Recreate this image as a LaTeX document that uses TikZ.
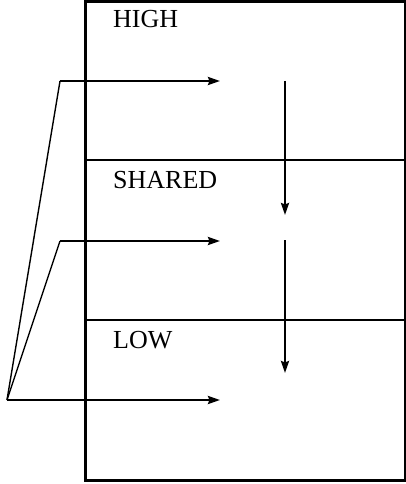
\documentclass[tikz,border=0pt]{standalone}
\usepackage{fontspec}
\setmainfont{Liberation Serif}
\usetikzlibrary{positioning,arrows.meta,fit,calc}

\begin{document}
\begin{tikzpicture}[
    x=1pt, y=-1pt,
    font=\fontsize{26}{30}\selectfont,
    layer/.style={draw, line width=2.4pt, minimum width=320pt, minimum height=160pt,
                  inner sep=0pt, outer sep=0pt},
    frame/.style={draw, line width=3.2pt, inner sep=0pt},
    lbl/.style={inner sep=0pt, anchor=base west},
    arr/.style={-{Stealth[length=12pt,width=8pt,inset=1.5pt]}, line width=2.4pt},
    feed/.style={line width=1.4pt}
  ]
  \useasboundingbox (0,0) rectangle (406,484);

  % ===== stacked layers =====
  \node[layer, minimum height=159pt, anchor=north west] (high) at (85.3,1.2) {};
  \node[layer, below=0pt of high] (shared) {};
  \node[layer, minimum height=160.5pt, below=0pt of shared] (low) {};
  \node[frame, fit=(high)(low)] (stack) {};

  \node[lbl] (highlbl)   at (113,28)  {HIGH};
  \node[lbl] (sharedlbl) at (113,188) {SHARED};
  \node[lbl] (lowlbl)    at (113,348) {LOW};

  % ===== inputs fanning out from one point =====
  \coordinate (fork)  at (7,400);
  \coordinate (kneeH) at (60,81);
  \coordinate (kneeS) at (60,241);
  \coordinate (inH) at (220,81);
  \coordinate (inS) at (220,241);
  \coordinate (inL) at (220,400);

  \draw[feed] (fork) -- (kneeH);
  \draw[feed] (fork) -- (kneeS);
  \draw[arr] (kneeH) -- (inH);
  \draw[arr] (kneeS) -- (inS);
  \draw[arr] (fork) -- (inL);

  % ===== downward flow =====
  \coordinate (flowA) at (285,81);
  \coordinate (flowB) at (285,215);
  \coordinate (flowC) at (285,240);
  \coordinate (flowD) at (285,373);
  \draw[arr] (flowA) -- (flowB);
  \draw[arr] (flowC) -- (flowD);

\end{tikzpicture}
\end{document}
